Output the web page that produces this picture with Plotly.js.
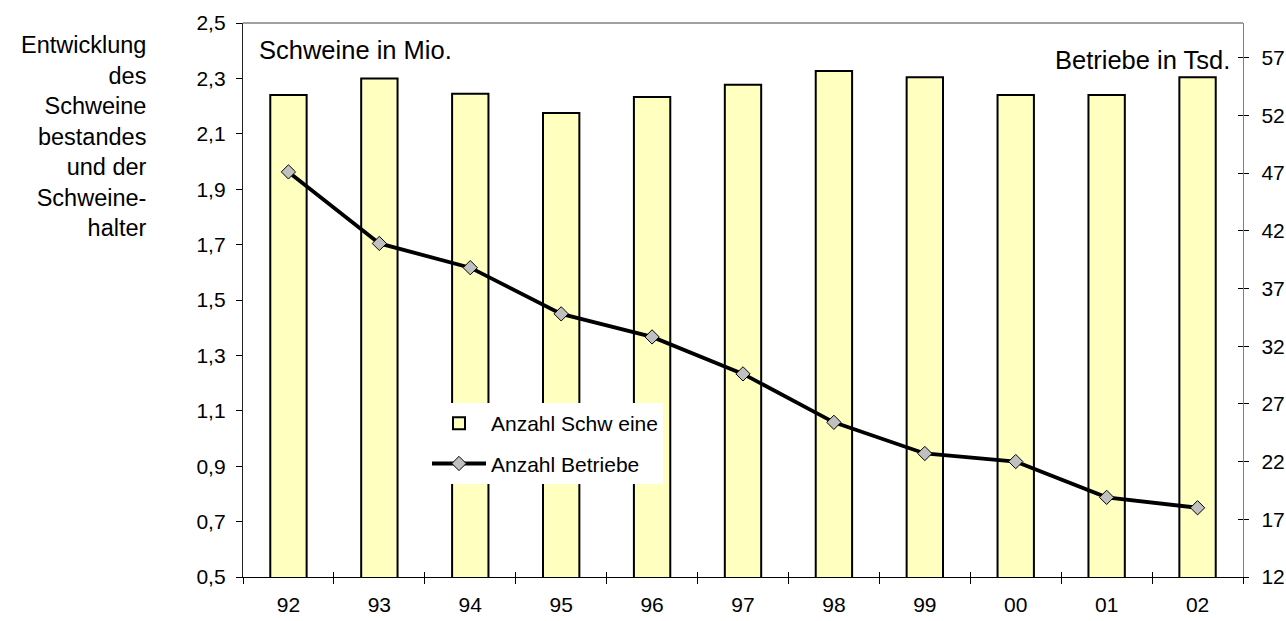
<!DOCTYPE html>
<html>
<head>
<meta charset="utf-8">
<script src="https://cdn.plot.ly/plotly-3.0.1.min.js"></script>
<style>html,body{margin:0;padding:0;background:#fff;}#chart{width:1286px;height:621px;}</style>
</head>
<body>
<div id="chart"></div>
<script>
const years = ['92','93','94','95','96','97','98','99','00','01','02'];
const schweine = [2.24, 2.30, 2.245, 2.175, 2.233, 2.277, 2.327, 2.304, 2.24, 2.24, 2.304];
const betriebe = [47.1, 40.9, 38.8, 34.8, 32.8, 29.6, 25.4, 22.7, 22.0, 18.9, 18.0];
const leftTicks = [0.5, 0.7, 0.9, 1.1, 1.3, 1.5, 1.7, 1.9, 2.1, 2.3, 2.5];
const rightTicks = [12, 17, 22, 27, 32, 37, 42, 47, 52, 57];

const FONT = 'Liberation Sans, Arial, sans-serif';

const traces = [
  {
    type: 'bar', x: years, y: schweine, name: 'Anzahl Schw eine',
    xaxis: 'x', yaxis: 'y', width: 0.4,
    marker: {color: '#FFFFC0', line: {color: '#000000', width: 2}},
    legendgroup: 'a', hoverinfo: 'skip'
  },
  {
    type: 'scatter', mode: 'lines+markers', x: years, y: betriebe, name: 'Anzahl Betriebe',
    xaxis: 'x', yaxis: 'y2',
    line: {color: '#000000', width: 3.8},
    marker: {symbol: 'diamond', size: 11, color: '#C0C0C0', line: {color: '#000000', width: 1}},
    legendgroup: 'b', hoverinfo: 'skip'
  },
  {
    type: 'scatter', mode: 'markers', x: years, y: schweine, xaxis: 'x2', yaxis: 'y',
    marker: {opacity: 0}, showlegend: false, hoverinfo: 'skip'
  },
  {
    type: 'scatter', mode: 'markers', x: years, y: betriebe, xaxis: 'x', yaxis: 'y3',
    marker: {opacity: 0}, showlegend: false, hoverinfo: 'skip'
  }
];

const layout = {
  width: 1286, height: 621,
  margin: {l: 243, r: 43, t: 23, b: 44},
  paper_bgcolor: '#ffffff', plot_bgcolor: '#ffffff',
  separators: ', ',
  font: {family: FONT, color: '#000000', size: 21},
  showlegend: true,
  legend: {
    x: 0.184, y: 0.314, xanchor: 'left', yanchor: 'top',
    bgcolor: '#ffffff', borderwidth: 0,
    font: {family: FONT, size: 21, color: '#000000'},
    traceorder: 'grouped', tracegroupgap: 10, itemwidth: 54
  },
  bargap: 0.6,
  xaxis: {
    type: 'category', categoryarray: years, categoryorder: 'array',
    range: [-0.5, 10.5],
    showline: true, linecolor: '#000000', linewidth: 1.2,
    ticks: 'outside', ticklen: 6, tickcolor: '#000000', tickwidth: 1,
    tickson: 'boundaries', showgrid: false, zeroline: false,
    tickfont: {family: FONT, size: 21, color: '#000000'},
    ticklabelstandoff: 9, fixedrange: true
  },
  xaxis2: {
    type: 'category', categoryarray: years, categoryorder: 'array',
    overlaying: 'x', anchor: 'y', side: 'bottom',
    range: [-0.5, 10.5],
    showline: false, ticks: 'inside', ticklen: 5, tickcolor: '#000000', tickwidth: 1,
    tickson: 'boundaries', showticklabels: false, showgrid: false, zeroline: false
  },
  yaxis: {
    range: [0.5, 2.5], tickvals: leftTicks, tickformat: '.1f',
    showline: true, linecolor: '#222222', linewidth: 1.2,
    ticks: 'outside', ticklen: 6, tickcolor: '#000000',
    showgrid: false, zeroline: false,
    tickfont: {family: FONT, size: 21, color: '#000000'},
    ticklabelstandoff: 6, fixedrange: true
  },
  yaxis2: {
    overlaying: 'y', side: 'right', anchor: 'x',
    range: [12, 60], tickvals: rightTicks,
    showline: true, linecolor: '#808080', linewidth: 1.2,
    ticks: 'outside', ticklen: 5, tickcolor: '#000000',
    showgrid: false, zeroline: false,
    tickfont: {family: FONT, size: 21, color: '#000000'},
    ticklabelstandoff: 8, fixedrange: true
  },
  yaxis3: {
    overlaying: 'y', side: 'right', anchor: 'x',
    range: [12, 60], tickvals: rightTicks,
    showline: false, ticks: 'inside', ticklen: 5, tickcolor: '#000000',
    showticklabels: false, showgrid: false, zeroline: false
  },
  shapes: [
    {type: 'line', xref: 'paper', yref: 'paper', x0: 0, x1: 1, y0: 1, y1: 1,
     line: {color: '#808080', width: 1.5}}
  ],
  annotations: [
    {
      xref: 'paper', yref: 'paper', x: -0.094, y: 0.988, xanchor: 'right', yanchor: 'top',
      align: 'right', showarrow: false,
      text: 'Entwicklung<br>des<br>Schweine<br>bestandes<br>und der<br>Schweine-<br>halter',
      font: {family: FONT, size: 23.5, color: '#000000'}
    },
    {
      xref: 'paper', yref: 'paper', x: 0.014, y: 0.951, xanchor: 'left', yanchor: 'middle',
      showarrow: false, text: 'Schweine in Mio.',
      font: {family: FONT, size: 25.5, color: '#000000'}
    },
    {
      xref: 'paper', yref: 'paper', x: 0.989, y: 0.933, xanchor: 'right', yanchor: 'middle',
      showarrow: false, text: 'Betriebe in Tsd.',
      font: {family: FONT, size: 25.5, color: '#000000'}
    }
  ]
};

Plotly.newPlot('chart', traces, layout, {displayModeBar: false, staticPlot: true});
</script>
</body>
</html>
